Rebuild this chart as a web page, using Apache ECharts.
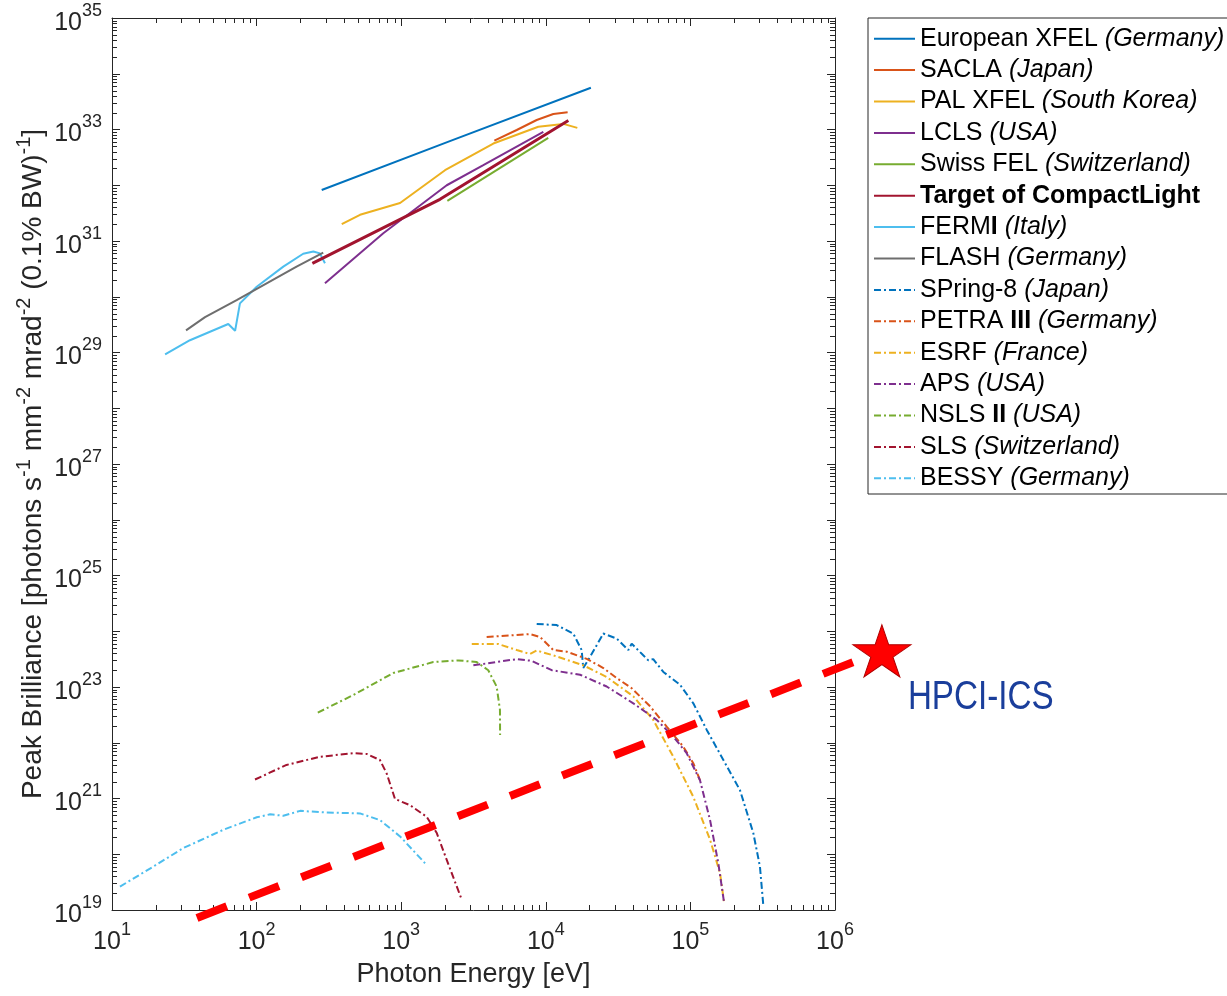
<!DOCTYPE html>
<html>
<head>
<meta charset="utf-8">
<script src="https://cdn.jsdelivr.net/npm/echarts@6/dist/echarts.min.js"></script>
<style>html,body{margin:0;padding:0;background:#fff}#c{width:1227px;height:996px}</style>
</head>
<body>
<div id="c"></div>
<script>
// ---- tick labels (exponents of 10) ----
const xTickExps = [1, 2, 3, 4, 5, 6];
const yTickExps = [19, 21, 23, 25, 27, 29, 31, 33, 35];
const minorMults = [2, 3, 4, 5, 6, 7, 8, 9];
const xDecades = [1, 2, 3, 4, 5];
const yDecades = [19, 20, 21, 22, 23, 24, 25, 26, 27, 28, 29, 30, 31, 32, 33, 34];

// ---- legend ----
const legendNames = ['European XFEL', 'SACLA', 'PAL XFEL', 'LCLS', 'Swiss FEL', 'Target of CompactLight',
  'FERMI', 'FLASH', 'SPring-8', 'PETRA III', 'ESRF', 'APS', 'NSLS II', 'SLS', 'BESSY'];
const legendCountries = ['Germany', 'Japan', 'South Korea', 'USA', 'Switzerland', '',
  'Italy', 'Germany', 'Japan', 'Germany', 'France', 'USA', 'USA', 'Switzerland', 'Germany'];

// ---- FEL (peak brilliance), energy [eV] and brilliance ----
const euxfelE = [282, 2170, 20500];
const euxfelB = [8.2e31, 6.2e32, 5.6e33];
const saclaE = [4406, 6295, 8650, 11272, 14158];
const saclaB = [6.3e32, 9.8e32, 1.48e33, 1.9e33, 2.04e33];
const palE = [388, 519, 982, 2009, 4335, 8872, 13213, 16520];
const palB = [2.0e31, 2.95e31, 4.8e31, 1.86e32, 5.6e32, 1.12e33, 1.26e33, 1.07e33];
const lclsE = [297, 752, 2065, 3698, 9616];
const lclsB = [1.74e30, 1.38e31, 1.0e32, 2.29e32, 9.1e32];
const swissE = [2085, 10400];
const swissB = [5.25e31, 7.1e32];
const targetE = [243, 1854, 14322];
const targetB = [3.98e30, 5.6e31, 1.45e33];
const fermiE = [23.3, 34.6, 63.7, 71.0, 76.7, 100.2, 153, 210, 247, 274, 297];
const fermiB = [9.3e28, 1.66e29, 3.24e29, 2.45e29, 7.6e29, 1.51e30, 3.47e30, 5.9e30, 6.5e30, 6.0e30, 4.0e30];
const flashE = [32.5, 44.0, 72.8, 189, 289];
const flashB = [2.5e29, 4.3e29, 8.7e29, 3.47e30, 6.2e30];

// ---- storage rings ----
const spring8E = [8650, 11885, 15488, 17701, 18155, 20230, 25000, 30903, 37239, 39264, 47206, 51168, 55335, 65013, 84723, 104713, 129718, 169044, 220290, 272270, 302691, 319154];
const spring8B = [1.35e24, 1.29e24, 9.1e23, 4.6e23, 2.19e23, 3.47e23, 9.1e23, 7.4e23, 4.6e23, 6.0e23, 3.7e23, 3.0e23, 3.16e23, 1.86e23, 1.1e23, 5.1e22, 1.7e22, 4.9e21, 1.41e21, 2.4e20, 6.0e19, 1.23e19];
const petraE = [3899, 7780, 9120, 11272, 13964, 19187, 25000, 30903, 39264, 52602, 68549, 89337, 104713, 116413];
const petraB = [7.9e23, 8.9e23, 7.9e23, 4.6e23, 4.3e23, 3.2e23, 2.19e23, 1.45e23, 9.5e22, 4.5e22, 1.95e22, 8.5e21, 4.3e21, 2.14e21];
const esrfE = [3076, 4699, 6295, 7780, 8650, 11272, 18155, 26363, 40272, 55335, 76208, 104713, 136773, 160325, 170608];
const esrfB = [5.9e23, 5.9e23, 4.6e23, 3.9e23, 4.5e23, 3.7e23, 2.45e23, 1.51e23, 6.8e22, 2.57e22, 5.6e21, 1.07e21, 1.82e20, 4.6e19, 1.41e19];
const apsE = [3155, 6295, 7980, 10990, 17258, 26363, 40272, 58479, 76208, 94189, 116413, 136773, 155955, 170608];
const apsB = [2.45e23, 3.16e23, 2.95e23, 2.0e23, 1.66e23, 1.02e23, 5.1e22, 2.57e22, 1.29e22, 6.5e21, 2.14e21, 4.1e20, 6.9e19, 1.41e19];
const nslsE = [265, 467, 881, 1667, 2483, 3327, 4000, 4571, 4819, 4830];
const nslsB = [3.47e22, 7.2e22, 1.78e23, 2.8e23, 3.0e23, 2.8e23, 2.0e23, 1.02e23, 3.9e22, 1.38e22];
const slsE = [97.5, 161, 274, 467, 577, 713, 794, 906, 1151, 1500, 1762, 2065, 2618];
const slsB = [2.19e21, 4.0e21, 5.6e21, 6.5e21, 6.3e21, 4.9e21, 2.8e21, 9.8e20, 7.6e20, 4.7e20, 2.4e20, 7.9e19, 1.55e19];
const bessyE = [11.35, 19.3, 31.1, 58.9, 100.2, 124, 153, 200, 305, 519, 713, 982, 1462];
const bessyB = [2.63e19, 6.0e19, 1.29e20, 2.75e20, 4.6e20, 5.2e20, 4.9e20, 6.0e20, 5.6e20, 5.4e20, 4.1e20, 2.09e20, 6.9e19];

// ---- HPCI-ICS target line and star ----
const hpciE = [38.7, 2.11e6];
const hpciB = [7.2e18, 4.43e23];
const hpciStarE = [2.11e6];
const hpciStarB = [4.43e23];
const hpciLabel = 'HPCI-ICS';

const FONT = "'Liberation Sans', Arial, Helvetica, sans-serif";
const AX = '#262626';
const C = {blue:'#0072BD', orange:'#D95319', yellow:'#EDB120', purple:'#7E2F8E', green:'#77AC30', dred:'#A2142F', lblue:'#4DBEEE', gray:'#6E6E6E'};
const DASHDOT = [7, 3, 2, 3];

function zip(E, B) { return E.map((e, i) => [e, B[i]]); }
function line(name, E, B, color, dash, width) {
  return {
    type: 'line', name: name, data: zip(E, B), symbol: 'none', showSymbol: false,
    lineStyle: {color: color, width: width || 2, type: dash || 'solid'},
    itemStyle: {color: color}, z: 3, animation: false, silent: true
  };
}

const xMinor = [];
xDecades.forEach(d => minorMults.forEach(m => xMinor.push(m * Math.pow(10, d))));
const yMinor = [];
yDecades.forEach(d => minorMults.forEach(m => yMinor.push(m * Math.pow(10, d))));

function tickLine(x1, y1, x2, y2) {
  return {type: 'line', shape: {x1: x1, y1: y1, x2: x2, y2: y2}, style: {stroke: AX, lineWidth: 1}};
}

const expLabel = e => '{b|10}{s|' + e + '}';
const labelRich = {
  b: {fontSize: 25, color: AX, fontFamily: FONT, padding: [10, 0, 0, 0]},
  s: {fontSize: 18, color: AX, fontFamily: FONT, padding: [0, 0, 14, 0]}
};

const series = [
  line('European XFEL', euxfelE, euxfelB, C.blue),
  line('SACLA', saclaE, saclaB, C.orange),
  line('PAL XFEL', palE, palB, C.yellow),
  line('LCLS', lclsE, lclsB, C.purple),
  line('Swiss FEL', swissE, swissB, C.green),
  line('FERMI', fermiE, fermiB, C.lblue),
  line('FLASH', flashE, flashB, C.gray),
  line('Target of CompactLight', targetE, targetB, C.dred, 'solid', 3),
  line('SPring-8', spring8E, spring8B, C.blue, DASHDOT),
  line('PETRA III', petraE, petraB, C.orange, DASHDOT),
  line('ESRF', esrfE, esrfB, C.yellow, DASHDOT),
  line('APS', apsE, apsB, C.purple, DASHDOT),
  line('NSLS II', nslsE, nslsB, C.green, DASHDOT),
  line('SLS', slsE, slsB, C.dred, DASHDOT),
  line('BESSY', bessyE, bessyB, C.lblue, DASHDOT),
  {
    type: 'custom', name: 'HPCI-ICS line', data: zip(hpciE, hpciB), clip: false, z: 5, silent: true, animation: false,
    renderItem: function (params, api) {
      if (params.dataIndex !== 0) return null;
      const pts = hpciE.map((e, i) => api.coord([e, hpciB[i]]));
      return {
        type: 'polyline', shape: {points: pts},
        style: {stroke: '#FF0000', lineWidth: 8, lineDash: [32, 24], lineCap: 'butt', fill: null}
      };
    }
  },
  {
    type: 'scatter', name: 'HPCI-ICS', data: zip(hpciStarE, hpciStarB), clip: false, z: 6, animation: false, silent: true,
    symbol: 'path://M50,0 L61.2,34.5 L97.6,34.5 L68.2,55.9 L79.4,90.5 L50,69.1 L20.6,90.5 L31.8,55.9 L2.4,34.5 L38.8,34.5 Z',
    symbolSize: [58, 52],
    itemStyle: {color: '#FF0000', borderColor: '#B00000', borderWidth: 1, opacity: 1}
  },
  {
    type: 'custom', name: 'HPCI-ICS label', data: zip(hpciStarE, hpciStarB), clip: false, z: 6, silent: true, animation: false,
    renderItem: function (params, api) {
      const p = api.coord([api.value(0), api.value(1)]);
      return {
        type: 'text', x: p[0] + 26, y: p[1] + 47, scaleX: 0.83,
        style: {text: hpciLabel, fill: '#1A3E9B', fontSize: 40, fontFamily: FONT, align: 'left', verticalAlign: 'middle'}
      };
    }
  },
  {
    type: 'custom', name: 'xminor', data: xMinor.map(v => [v, 1e27]), clip: false, z: 2, silent: true, animation: false,
    renderItem: function (params, api) {
      const cs = params.coordSys;
      const x = Math.round(api.coord([api.value(0), api.value(1)])[0]) + 0.5;
      const yb = cs.y + cs.height, yt = cs.y;
      return {type: 'group', children: [tickLine(x, yb, x, yb - 5), tickLine(x, yt, x, yt + 5)]};
    }
  },
  {
    type: 'custom', name: 'yminor', data: yMinor.map(v => [100, v]), clip: false, z: 2, silent: true, animation: false,
    renderItem: function (params, api) {
      const cs = params.coordSys;
      const y = Math.round(api.coord([api.value(0), api.value(1)])[1]) + 0.5;
      const xl = cs.x, xr = cs.x + cs.width;
      return {type: 'group', children: [tickLine(xl, y, xl + 5, y), tickLine(xr, y, xr - 5, y)]};
    }
  }
];

const legendRich = {
  n: {fontSize: 25, color: '#000', fontFamily: FONT, lineHeight: 31.4},
  i: {fontSize: 25, color: '#000', fontFamily: FONT, fontStyle: 'italic', lineHeight: 31.4},
  bb: {fontSize: 25, color: '#000', fontFamily: FONT, fontWeight: 'bold', lineHeight: 31.4}
};
function legendText(name) {
  const idx = legendNames.indexOf(name);
  const country = legendCountries[idx];
  let main;
  if (name === 'Target of CompactLight') return '{bb|' + name + '}';
  if (name === 'PETRA III') main = '{n|PETRA }{bb|III}';
  else if (name === 'NSLS II') main = '{n|NSLS }{bb|II}';
  else if (name === 'FERMI') main = '{n|FERM}{bb|I}';
  else main = '{n|' + name + '}';
  return main + (country ? '{n| }{i|(' + country + ')}' : '');
}

const axisBase = {
  type: 'log', logBase: 10,
  axisLine: {show: true, lineStyle: {color: AX, width: 1}},
  axisTick: {show: true, inside: true, length: 8, lineStyle: {color: AX, width: 1}},
  splitLine: {show: false}, minorTick: {show: false}, minorSplitLine: {show: false}
};

const option = {
  animation: false,
  backgroundColor: '#fff',
  textStyle: {fontFamily: FONT},
  grid: {left: 112, top: 18, right: 392, bottom: 86, containLabel: false, outerBoundsMode: 'none'},
  legend: {
    data: legendNames, orient: 'vertical', left: 868, top: 18,
    padding: [5, 10, 0, 5], itemGap: 0, itemWidth: 41, itemHeight: 14,
    backgroundColor: '#fff', borderColor: AX, borderWidth: 1, borderRadius: 0,
    selectedMode: false, formatter: legendText,
    itemStyle: {opacity: 0, borderWidth: 0},
    textStyle: {fontSize: 25, color: '#000', fontFamily: FONT, lineHeight: 31.4, rich: legendRich}
  },
  xAxis: [
    Object.assign({}, axisBase, {
      position: 'bottom', min: 10, max: 1e6, interval: 1,
      axisLabel: {
        margin: 10,
        formatter: v => { const e = Math.round(Math.log10(v)); return xTickExps.includes(e) ? expLabel(e) : ''; },
        rich: labelRich
      },
      name: 'Photon Energy [eV]', nameLocation: 'middle', nameGap: 51, nameMoveOverlap: false,
      nameTextStyle: {fontSize: 27, color: AX, fontFamily: FONT}
    }),
    Object.assign({}, axisBase, {position: 'top', min: 10, max: 1e6, interval: 1, axisLabel: {show: false}})
  ],
  yAxis: [
    Object.assign({}, axisBase, {
      position: 'left', min: 1e19, max: 1e35, interval: 1,
      axisLabel: {
        margin: 10,
        formatter: v => { const e = Math.round(Math.log10(v)); return yTickExps.includes(e) ? expLabel(e) : ''; },
        rich: labelRich
      },
      name: '{t|Peak Brilliance [photons s}{u|-1}{t| mm}{u|-2}{t| mrad}{u|-2}{t| (0.1% BW)}{u|-1}{t|]}',
      nameLocation: 'middle', nameRotate: 90, nameGap: 60, nameMoveOverlap: false,
      nameTextStyle: {
        color: AX, fontFamily: FONT,
        rich: {
          t: {fontSize: 28, color: AX, fontFamily: FONT},
          u: {fontSize: 20, color: AX, fontFamily: FONT, padding: [0, 0, 18, 0]}
        }
      }
    }),
    Object.assign({}, axisBase, {position: 'right', min: 1e19, max: 1e35, interval: 1, axisLabel: {show: false}})
  ],
  series: series
};

const chart = echarts.init(document.getElementById('c'), null, {renderer: 'canvas'});
chart.setOption(option);
</script>
</body>
</html>
